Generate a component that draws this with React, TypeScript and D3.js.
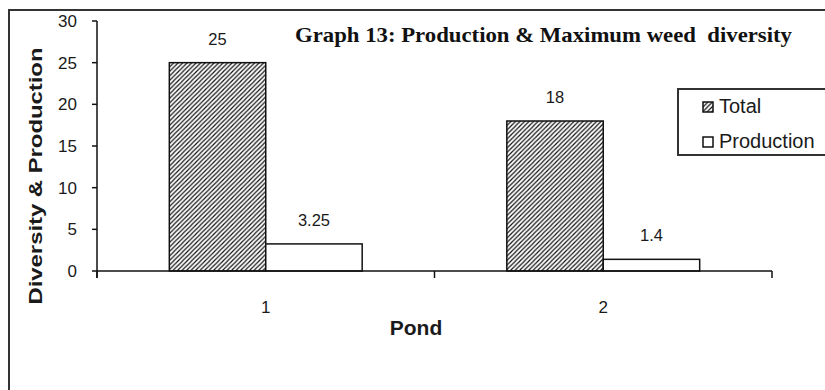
import React from "react";
import * as d3 from "d3";

const categories = ["1", "2"];
const seriesNames = ["Total", "Production"];
const totalValues = [25, 18];
const productionValues = [3.25, 1.4];
const yTicks = [0, 5, 10, 15, 20, 25, 30];
const titleText = "Graph 13: Production & Maximum weed  diversity";
const yTitle = "Diversity & Production";
const xTitle = "Pond";

const W = 825;
const H = 390;

export default function App() {
  const x0 = d3.scaleBand<string>().domain(categories).range([97, 772]).paddingInner(0).paddingOuter(0);
  const x1 = d3
    .scaleBand<string>()
    .domain(seriesNames)
    .range([0, x0.bandwidth()])
    .paddingInner(0)
    .paddingOuter(0.75);
  const y = d3.scaleLinear().domain([0, 30]).range([271, 21]);

  const rows = categories.map((c, i) => ({
    cat: c,
    vals: [
      { key: "Total", v: totalValues[i] },
      { key: "Production", v: productionValues[i] },
    ],
  }));

  const textColor = "#1a1a1a";
  const sans = "Arial, 'Liberation Sans', sans-serif";

  return (
    <svg
      width={W}
      height={H}
      style={{ position: "absolute", left: 0, top: 0, background: "#fff" }}
    >
      <defs>
        <pattern id="hatch" patternUnits="userSpaceOnUse" width={4.5} height={4.5}>
          <rect width={4.5} height={4.5} fill="#fff" />
          <path
            d="M-1,1 l2,-2 M0,4.5 l4.5,-4.5 M3.5,5.5 l2,-2"
            stroke="#111"
            strokeWidth={1.2}
          />
        </pattern>
      </defs>
      <rect x={0} y={0} width={W} height={H} fill="#fff" />
      {/* outer frame */}
      <rect x={9} y={10} width={W + 20} height={H + 20} fill="none" stroke="#333" strokeWidth={2} />

      {/* title */}
      <text
        x={295}
        y={42}
        fontFamily="'Times New Roman', 'Liberation Serif', serif"
        fontWeight="bold"
        fontSize={21}
        fill="#111"
        textLength={497}
        lengthAdjust="spacingAndGlyphs"
        style={{ whiteSpace: "pre" }}
      >
        {titleText}
      </text>

      {/* bars */}
      {rows.map((r) => (
        <g key={r.cat} transform={`translate(${x0(r.cat)},0)`}>
          {r.vals.map((d) => (
            <g key={d.key}>
              <rect
                x={x1(d.key)}
                y={y(d.v)}
                width={x1.bandwidth()}
                height={y(0) - y(d.v)}
                fill={d.key === "Total" ? "url(#hatch)" : "#fff"}
                stroke="#111"
                strokeWidth={1.5}
              />
              <text
                x={(x1(d.key) as number) + x1.bandwidth() / 2}
                y={y(d.v) - 18}
                textAnchor="middle"
                fontFamily={sans}
                fontSize={16.5}
                fill={textColor}
              >
                {d.v}
              </text>
            </g>
          ))}
        </g>
      ))}

      {/* y axis */}
      <line x1={97} x2={97} y1={y(30)} y2={278} stroke="#111" strokeWidth={1.5} />
      {yTicks.map((t) => (
        <g key={t}>
          <line x1={92} x2={97} y1={y(t)} y2={y(t)} stroke="#111" strokeWidth={1.5} />
          <text
            x={77}
            y={y(t) + 6}
            textAnchor="end"
            fontFamily={sans}
            fontSize={17}
            fill={textColor}
          >
            {t}
          </text>
        </g>
      ))}

      {/* x axis */}
      <line x1={97} x2={772} y1={y(0)} y2={y(0)} stroke="#111" strokeWidth={1.5} />
      {[...categories.map((c) => x0(c) as number), 772].map((px, i) => (
        <line key={i} x1={px} x2={px} y1={y(0)} y2={278} stroke="#111" strokeWidth={1.5} />
      ))}
      {categories.map((c) => (
        <text
          key={c}
          x={(x0(c) as number) + x0.bandwidth() / 2}
          y={313}
          textAnchor="middle"
          fontFamily={sans}
          fontSize={17}
          fill={textColor}
        >
          {c}
        </text>
      ))}

      {/* axis titles */}
      <text
        x={416}
        y={335}
        textAnchor="middle"
        fontFamily={sans}
        fontWeight="bold"
        fontSize={21}
        fill={textColor}
      >
        {xTitle}
      </text>
      <text
        transform={`translate(42,176) rotate(-90)`}
        textAnchor="middle"
        fontFamily={sans}
        fontWeight="bold"
        fontSize={19}
        fill={textColor}
        textLength={257}
        lengthAdjust="spacingAndGlyphs"
      >
        {yTitle}
      </text>

      {/* legend */}
      <rect x={678} y={89} width={200} height={66} fill="#fff" stroke="#333" strokeWidth={2} />
      {seriesNames.map((s, i) => (
        <g key={s} transform={`translate(0,${i * 35})`}>
          <rect
            x={703}
            y={102}
            width={10}
            height={10}
            fill={s === "Total" ? "url(#hatch)" : "#fff"}
            stroke="#111"
            strokeWidth={1.5}
          />
          <text x={719} y={113} fontFamily={sans} fontSize={20} fill={textColor}>
            {s}
          </text>
        </g>
      ))}
    </svg>
  );
}
